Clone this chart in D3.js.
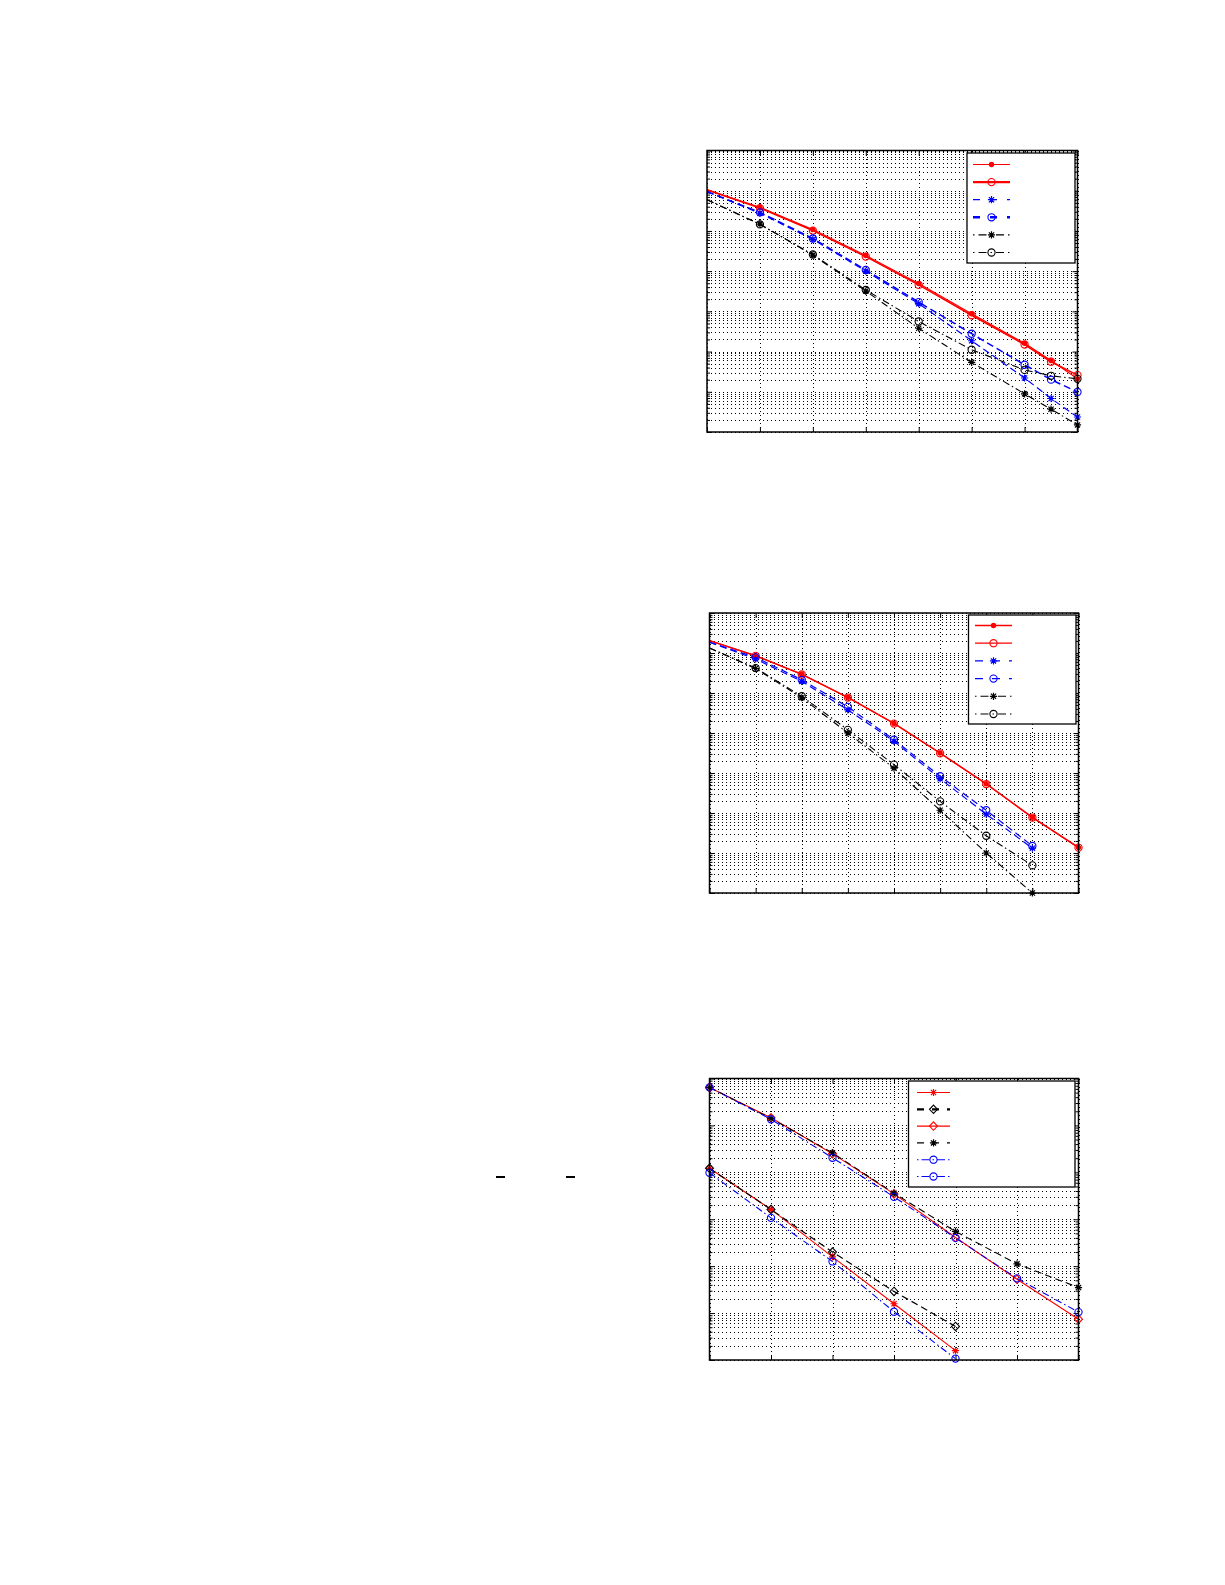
<!DOCTYPE html>
<html>
<head>
<meta charset="utf-8">
<script src="https://d3js.org/d3.v7.min.js"></script>
<style>
  body { margin: 0; background: #fff; }
  svg { display: block; background: #fff; }
  .grid line { stroke: #000; stroke-width: 1; stroke-dasharray: 1,3; shape-rendering: crispEdges; }
  .grid path { display: none; }
  .ticks path { display: none; }
  .ticks line { stroke: #000; stroke-width: 1; }
</style>
</head>
<body>
<script>
// ---- chart 1 data (log y, 7 decades) ----
var x1 = [0, 2, 4, 6, 8, 10, 12, 13, 14];
var c1RedDot    = [0.105, 3.85e-2, 1.08e-2, 2.45e-3, 4.9e-4, 8.7e-5, 1.6e-5, 6.0e-6, 2.1e-6];
var c1RedCirc   = [0.105, 3.7e-2, 1.02e-2, 2.3e-3, 4.55e-4, 8.0e-5, 1.5e-5, 5.6e-6, 2.6e-6];
var c1BlueStar  = [9.5e-2, 2.75e-2, 6.2e-3, 1.0e-3, 1.55e-4, 1.86e-5, 2.2e-6, 6.8e-7, 2.36e-7];
var c1BlueCirc  = [9.5e-2, 2.9e-2, 6.5e-3, 1.07e-3, 1.7e-4, 2.78e-5, 4.7e-6, 2.0e-6, 9.9e-7];
var c1BlackStar = [5.96e-2, 1.48e-2, 2.5e-3, 3.2e-4, 3.8e-5, 5.4e-6, 8.9e-7, 3.7e-7, 1.5e-7];
var c1BlackCirc = [5.96e-2, 1.45e-2, 2.6e-3, 3.4e-4, 5.6e-5, 1.11e-5, 3.5e-6, 2.5e-6, 2.1e-6];
var x1Ticks = [0, 2, 4, 6, 8, 10, 12, 14];

// ---- chart 2 data (log y, 7 decades) ----
var x2 = [0, 2, 4, 6, 8, 10, 12, 14, 16];
var x2b = [0, 2, 4, 6, 8, 10, 12, 14];
var c2RedDot    = [0.204, 8.6e-2, 2.95e-2, 7.8e-3, 1.74e-3, 3.16e-4, 5.4e-5, 7.8e-6, 1.38e-6];
var c2RedCirc   = [0.204, 8.5e-2, 2.9e-2, 7.7e-3, 1.72e-3, 3.1e-4, 5.3e-5, 7.7e-6, 1.36e-6];
var c2BlueStar  = [0.186, 7.1e-2, 1.95e-2, 3.8e-3, 6.2e-4, 7.2e-5, 9.3e-6, 1.32e-6];
var c2BlueCirc  = [0.186, 7.8e-2, 2.14e-2, 4.5e-3, 6.8e-4, 8.3e-5, 1.17e-5, 1.5e-6];
var c2BlackStar = [0.133, 4.1e-2, 7.6e-3, 1.0e-3, 1.32e-4, 1.17e-5, 1.0e-6, 1.0e-7];
var c2BlackCirc = [0.133, 4.2e-2, 8.3e-3, 1.2e-3, 1.62e-4, 1.95e-5, 2.7e-6, 4.9e-7];
var x2Ticks = [0, 2, 4, 6, 8, 10, 12, 14, 16];

// ---- chart 3 data (log y, 6 decades) ----
var x3 = [0, 1, 2, 3, 4, 5, 6];
var x3b = [0, 1, 2, 3, 4];
var c3RedStar   = [1.22e-2, 1.62e-3, 1.58e-4, 1.58e-5, 1.58e-6];
var c3BlackDiam = [1.22e-2, 1.62e-3, 2.0e-4, 2.9e-5, 5.2e-6];
var c3RedDiam   = [0.646, 0.145, 2.5e-2, 3.47e-3, 4.07e-4, 5.25e-5, 7.4e-6];
var c3BlackStar = [0.646, 0.141, 2.6e-2, 3.6e-3, 5.5e-4, 1.12e-4, 3.5e-5];
var c3BlueUpper = [0.646, 0.135, 2.04e-2, 3.0e-3, 4.0e-4, 5.5e-5, 1.05e-5];
var c3BlueLower = [9.8e-3, 1.07e-3, 1.26e-4, 1.07e-5, 1.07e-6];
var x3Ticks = [0, 1, 2, 3, 4, 5, 6];

var RED = "#ff0000", BLUE = "#0000ff", BLACK = "#000000";
var DASH = "7,4", DASHDOT = "7,3,1.5,3";

var svg = d3.select("body").append("svg")
    .attr("width", 1225)
    .attr("height", 1585);

function drawMarker(g, type, color, cx, cy) {
    if (type === "dot") {
        g.append("circle").attr("cx", cx).attr("cy", cy).attr("r", 2.7).attr("fill", color);
    } else if (type === "o") {
        g.append("circle").attr("cx", cx).attr("cy", cy).attr("r", 3.6)
            .attr("fill", "none").attr("stroke", color).attr("stroke-width", 1.1);
    } else if (type === "star") {
        g.append("path")
            .attr("transform", "translate(" + cx + "," + cy + ")")
            .attr("d", "M-3.6,0H3.6M0,-3.6V3.6M-2.6,-2.6L2.6,2.6M-2.6,2.6L2.6,-2.6")
            .attr("stroke", color).attr("stroke-width", 1.2).attr("fill", "none");
        g.append("circle").attr("cx", cx).attr("cy", cy).attr("r", 1.6).attr("fill", color);
    } else if (type === "diamond") {
        g.append("path")
            .attr("transform", "translate(" + cx + "," + cy + ")")
            .attr("d", "M0,-4.2L4,0L0,4.2L-4,0Z")
            .attr("stroke", color).attr("stroke-width", 1.1).attr("fill", "none");
    }
}

function drawChart(cfg, id) {
    var x = d3.scaleLinear().domain(cfg.xDomain).range([cfg.box.x0, cfg.box.x1]);
    var y = d3.scaleLog().domain(cfg.yDomain).range([cfg.box.y1, cfg.box.y0]);
    var w = cfg.box.x1 - cfg.box.x0, h = cfg.box.y1 - cfg.box.y0;

    svg.append("clipPath").attr("id", "clip" + id)
        .append("rect").attr("x", cfg.box.x0).attr("y", cfg.box.y0).attr("width", w).attr("height", h);

    var g = svg.append("g");

    // grid
    g.append("g").attr("class", "grid")
        .attr("transform", "translate(0," + cfg.box.y1 + ")")
        .call(d3.axisBottom(x).tickValues(cfg.xTicks).tickSize(-h).tickFormat(""));
    g.append("g").attr("class", "grid")
        .attr("transform", "translate(" + cfg.box.x0 + ",0)")
        .call(d3.axisLeft(y).tickValues(y.ticks()).tickSize(-w).tickFormat(""));

    // ticks (inward)
    var decades = y.ticks().filter(function (v) { return Math.abs(Math.log10(v) - Math.round(Math.log10(v))) < 1e-9; });
    var minors = y.ticks().filter(function (v) { return decades.indexOf(v) < 0; });
    g.append("g").attr("class", "ticks").attr("transform", "translate(0," + cfg.box.y1 + ")")
        .call(d3.axisBottom(x).tickValues(cfg.xTicks).tickSize(-5).tickFormat(""));
    g.append("g").attr("class", "ticks").attr("transform", "translate(0," + cfg.box.y0 + ")")
        .call(d3.axisTop(x).tickValues(cfg.xTicks).tickSize(-5).tickFormat(""));
    g.append("g").attr("class", "ticks").attr("transform", "translate(" + cfg.box.x0 + ",0)")
        .call(d3.axisLeft(y).tickValues(decades).tickSize(-5).tickFormat(""));
    g.append("g").attr("class", "ticks").attr("transform", "translate(" + cfg.box.x0 + ",0)")
        .call(d3.axisLeft(y).tickValues(minors).tickSize(-3).tickFormat(""));
    g.append("g").attr("class", "ticks").attr("transform", "translate(" + cfg.box.x1 + ",0)")
        .call(d3.axisRight(y).tickValues(decades).tickSize(-5).tickFormat(""));
    g.append("g").attr("class", "ticks").attr("transform", "translate(" + cfg.box.x1 + ",0)")
        .call(d3.axisRight(y).tickValues(minors).tickSize(-3).tickFormat(""));

    // series
    var line = d3.line().x(function (d) { return x(d[0]); }).y(function (d) { return y(d[1]); });
    var plot = g.append("g").attr("clip-path", "url(#clip" + id + ")");
    cfg.series.forEach(function (s) {
        var pts = s.x.map(function (v, i) { return [v, s.y[i]]; });
        plot.append("path").datum(pts)
            .attr("d", line)
            .attr("fill", "none")
            .attr("stroke", s.color)
            .attr("stroke-width", s.width)
            .attr("stroke-dasharray", s.dash || null);
        var mg = g.append("g");
        pts.forEach(function (p, i) {
            if (i < (cfg.markFrom || 0)) return;
            drawMarker(mg, s.marker, s.color, x(p[0]), y(p[1]));
        });
    });

    // box
    g.append("rect")
        .attr("x", cfg.box.x0).attr("y", cfg.box.y0)
        .attr("width", w).attr("height", h)
        .attr("fill", "none").attr("stroke", "#000").attr("stroke-width", 1.5);

    // legend
    var L = cfg.legend;
    var lg = g.append("g");
    lg.append("rect")
        .attr("x", L.x0).attr("y", L.y0)
        .attr("width", L.x1 - L.x0).attr("height", L.y1 - L.y0)
        .attr("fill", "#fff").attr("stroke", "#000").attr("stroke-width", 1.3);
    cfg.series.forEach(function (s, i) {
        var ry = L.rowY0 + i * L.rowStep;
        lg.append("line")
            .attr("x1", L.sx0).attr("x2", L.sx1).attr("y1", ry).attr("y2", ry)
            .attr("stroke", s.color).attr("stroke-width", s.legendWidth || s.width)
            .attr("stroke-dasharray", s.legendDash || s.dash || null);
        drawMarker(lg, s.marker, s.color, (L.sx0 + L.sx1) / 2, ry);
    });
}

drawChart({
    box: { x0: 707, x1: 1077.5, y0: 150.5, y1: 432 },
    xDomain: [0, 14], yDomain: [1e-7, 1], xTicks: x1Ticks, markFrom: 1,
    series: [
        { x: x1, y: c1RedDot, color: RED, width: 1.2, marker: "dot" },
        { x: x1, y: c1RedCirc, color: RED, width: 1.6, legendWidth: 2.4, marker: "o" },
        { x: x1, y: c1BlueStar, color: BLUE, width: 1.2, dash: DASH, legendDash: "7,10", marker: "star" },
        { x: x1, y: c1BlueCirc, color: BLUE, width: 1.5, dash: DASH, legendWidth: 2.4, legendDash: "7,10", marker: "o" },
        { x: x1, y: c1BlackStar, color: BLACK, width: 1.1, dash: DASHDOT, legendDash: "1.5,4,8,4", marker: "star" },
        { x: x1, y: c1BlackCirc, color: BLACK, width: 1.1, dash: DASHDOT, legendDash: "1.5,4,8,4", marker: "o" }
    ],
    legend: { x0: 967, x1: 1075, y0: 153, y1: 263, rowY0: 164.5, rowStep: 17.6, sx0: 973, sx1: 1010 }
}, 1);

drawChart({
    box: { x0: 709.5, x1: 1078.5, y0: 613, y1: 893 },
    xDomain: [0, 16], yDomain: [1e-7, 1], xTicks: x2Ticks, markFrom: 1,
    series: [
        { x: x2, y: c2RedDot, color: RED, width: 1.4, marker: "dot" },
        { x: x2, y: c2RedCirc, color: RED, width: 1.2, marker: "o" },
        { x: x2b, y: c2BlueStar, color: BLUE, width: 1.2, dash: DASH, legendDash: "8,9", marker: "star" },
        { x: x2b, y: c2BlueCirc, color: BLUE, width: 1.2, dash: DASH, legendDash: "8,9", marker: "o" },
        { x: x2b, y: c2BlackStar, color: BLACK, width: 1.1, dash: DASHDOT, legendDash: "1.5,4,8,4", marker: "star" },
        { x: x2b, y: c2BlackCirc, color: BLACK, width: 1.1, dash: DASHDOT, legendDash: "1.5,4,8,4", marker: "o" }
    ],
    legend: { x0: 968.5, x1: 1076, y0: 615, y1: 724, rowY0: 625.5, rowStep: 17.7, sx0: 975, sx1: 1012 }
}, 2);

drawChart({
    box: { x0: 709.5, x1: 1078.5, y0: 1078.5, y1: 1360 },
    xDomain: [0, 6], yDomain: [1e-6, 1], xTicks: x3Ticks, markFrom: 0,
    series: [
        { x: x3b, y: c3RedStar, color: RED, width: 1.1, marker: "star" },
        { x: x3b, y: c3BlackDiam, color: BLACK, width: 1.2, dash: DASH, legendWidth: 2.2, legendDash: "7,8", marker: "diamond" },
        { x: x3, y: c3RedDiam, color: RED, width: 1.1, marker: "diamond" },
        { x: x3, y: c3BlackStar, color: BLACK, width: 1.1, dash: DASH, legendDash: "7,8", marker: "star" },
        { x: x3, y: c3BlueUpper, color: BLUE, width: 1.1, dash: DASHDOT, legendDash: "1.5,3,8,3", marker: "o" },
        { x: x3b, y: c3BlueLower, color: BLUE, width: 1.1, dash: DASHDOT, legendDash: "1.5,3,8,3", marker: "o" }
    ],
    legend: { x0: 908.5, x1: 1075, y0: 1081, y1: 1187, rowY0: 1092.5, rowStep: 16.8, sx0: 917, sx1: 950 }
}, 3);

// two short overbar strokes left of chart 3
svg.append("line").attr("x1", 496).attr("x2", 505).attr("y1", 1177).attr("y2", 1177)
    .attr("stroke", "#000").attr("stroke-width", 2);
svg.append("line").attr("x1", 566).attr("x2", 575).attr("y1", 1177).attr("y2", 1177)
    .attr("stroke", "#000").attr("stroke-width", 2);
</script>
</body>
</html>
